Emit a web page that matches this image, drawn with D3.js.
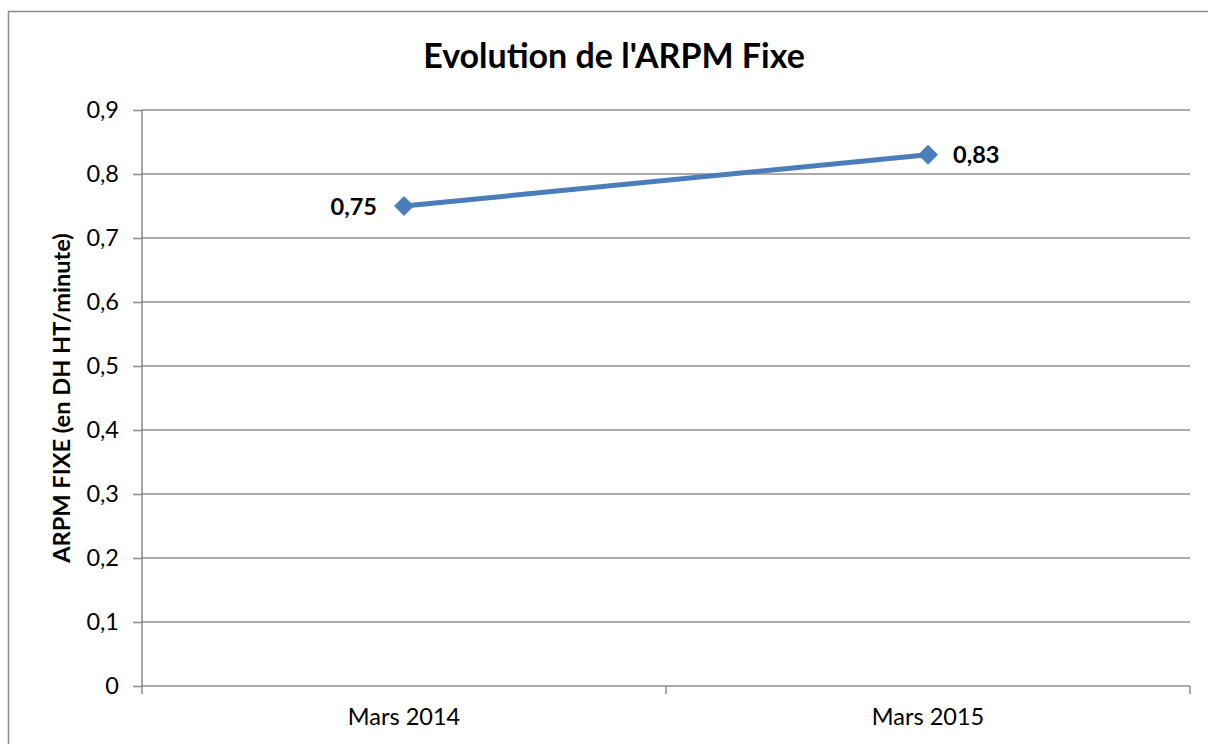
<!DOCTYPE html>
<html><head><meta charset="utf-8">
<script src="https://cdn.jsdelivr.net/npm/d3@7"></script>
<style>html,body{margin:0;padding:0;background:#fff;overflow:hidden}svg{display:block}</style>
</head><body>
<svg id="c" width="1208" height="744"></svg>
<script>
const categories = ["Mars 2014", "Mars 2015"];
const values = [0.75, 0.83];
const labels = ["0,75", "0,83"];
const yTicks = [0, 0.1, 0.2, 0.3, 0.4, 0.5, 0.6, 0.7, 0.8, 0.9];
const title = "Evolution de l'ARPM Fixe";
const yTitle = "ARPM FIXE (en DH HT/minute)";

const svg = d3.select("#c");
const font = "Lato, 'Liberation Sans', sans-serif";
const m = {left: 142, right: 1190, top: 110, bottom: 686};

svg.append("rect").attr("x", 8.5).attr("y", 11.5).attr("width", 1220).attr("height", 760)
  .attr("fill", "#fff").attr("stroke", "#8c8c8c").attr("stroke-width", 1.5);

const x = d3.scaleBand().domain(categories).range([m.left, m.right]);
const y = d3.scaleLinear().domain([0, 0.9]).range([m.bottom, m.top]);

// gridlines
svg.append("g").selectAll("line").data(yTicks.filter(d => d > 0)).join("line")
  .attr("x1", m.left).attr("x2", m.right)
  .attr("y1", d => y(d)).attr("y2", d => y(d))
  .attr("stroke", "#8c8c8c").attr("stroke-width", 1.5);

// y axis
const yAxis = svg.append("g").attr("transform", `translate(${m.left},0)`)
  .call(d3.axisLeft(y).tickValues(yTicks).tickSize(9).tickPadding(14)
    .tickFormat(d => d3.format(".1f")(d).replace(".", ",").replace(/^0,0$/, "0")));
yAxis.select(".domain").attr("stroke", "#8c8c8c").attr("stroke-width", 1.5).attr("d", `M0,${m.top}V${m.bottom}`);
yAxis.selectAll(".tick line").attr("stroke", "#8c8c8c").attr("stroke-width", 1.5);
yAxis.selectAll(".tick text").attr("font-family", font).attr("font-size", 23.5).attr("fill", "#000");

// x axis
const xAxis = svg.append("g").attr("transform", `translate(0,${m.bottom})`)
  .call(d3.axisBottom(x).tickSize(0).tickPadding(22));
xAxis.select(".domain").attr("stroke", "#8c8c8c").attr("stroke-width", 1.5).attr("d", `M${m.left},0H${m.right}`);
xAxis.selectAll(".tick text").attr("font-family", font).attr("font-size", 23.5).attr("fill", "#000");
// category boundary ticks
const bounds = [m.left, ...categories.map(c => x(c) + x.bandwidth())];
xAxis.append("g").selectAll("line").data(bounds).join("line")
  .attr("x1", d => d).attr("x2", d => d).attr("y1", 0).attr("y2", 8)
  .attr("stroke", "#8c8c8c").attr("stroke-width", 1.5);

// line
const cx = d => x(d) + x.bandwidth() / 2;
svg.append("path").datum(categories.map((c, i) => [cx(c), y(values[i])]))
  .attr("d", d3.line()).attr("fill", "none").attr("stroke", "#4a7ebb").attr("stroke-width", 5);

svg.append("g").selectAll("path").data(categories).join("path")
  .attr("transform", (c, i) => `translate(${cx(c)},${y(values[i])})`)
  .attr("d", "M0,-9.5L9.5,0L0,9.5L-9.5,0Z").attr("fill", "#4a7ebb").attr("stroke", "#4a7ebb").attr("stroke-width", 1);

svg.append("g").selectAll("text").data(categories).join("text")
  .attr("x", (c, i) => cx(c) + (i === 0 ? -27 : 25))
  .attr("y", (c, i) => y(values[i]) + 8.5)
  .attr("text-anchor", (c, i) => i === 0 ? "end" : "start")
  .attr("font-family", font).attr("font-weight", "bold").attr("font-size", 23.5).attr("fill", "#000")
  .text((c, i) => labels[i]);

// title
svg.append("text").attr("x", 614).attr("y", 68).attr("text-anchor", "middle")
  .attr("font-family", font).attr("font-weight", "bold").attr("font-size", 34).attr("fill", "#000")
  .text(title);

// y title
svg.append("text").attr("transform", `translate(70,${(m.top + m.bottom) / 2}) rotate(-90)`)
  .attr("text-anchor", "middle")
  .attr("font-family", font).attr("font-weight", "bold").attr("font-size", 23.6).attr("fill", "#000")
  .text(yTitle);
</script>
</body></html>
